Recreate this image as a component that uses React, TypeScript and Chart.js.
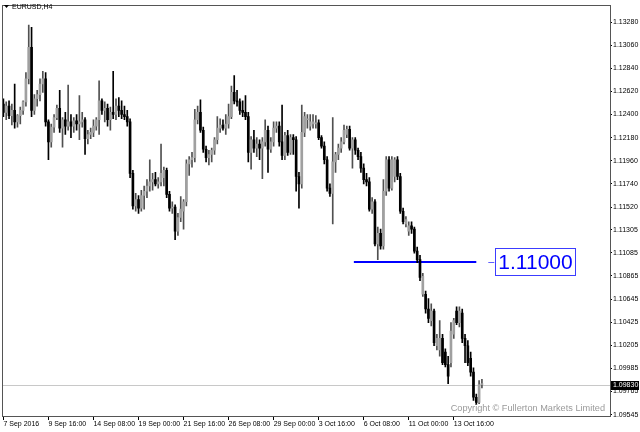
import React, { useEffect, useRef } from "react";
import { Chart, registerables } from "chart.js";

Chart.register(...registerables);

const symbolTitle = "EURUSD,H4";

const barOpen = [
  1.1250, 1.1242, 1.1248, 1.1239, 1.1244, 1.1233, 1.1239, 1.1244, 1.1252, 1.1274,
  1.1304, 1.1244, 1.1255, 1.1259, 1.1269, 1.1274, 1.1233, 1.1214, 1.1228, 1.1237,
  1.1246, 1.1227, 1.1235, 1.1229, 1.1233, 1.1229, 1.1234, 1.1231, 1.1233, 1.1235,
  1.1217, 1.1221, 1.1223, 1.1229, 1.1235, 1.1253, 1.1244, 1.1246, 1.1235, 1.1242,
  1.1240, 1.1248, 1.1244, 1.1240, 1.1238, 1.1233, 1.1184, 1.1153, 1.1159, 1.1151,
  1.1163, 1.1167, 1.1172, 1.1176, 1.1178, 1.1174, 1.1176, 1.1180, 1.1187, 1.1164,
  1.1151, 1.1152, 1.1129, 1.1142, 1.1148, 1.1157, 1.1193, 1.1197, 1.1199, 1.1235,
  1.1242, 1.1225, 1.1207, 1.1199, 1.1202, 1.1206, 1.1216, 1.1227, 1.1230, 1.1227,
  1.1231, 1.1238, 1.1261, 1.1253, 1.1252, 1.1244, 1.1242, 1.1238, 1.1204, 1.1216,
  1.1208, 1.1212, 1.1208, 1.1214, 1.1225, 1.1207, 1.1214, 1.1227, 1.1229, 1.1214,
  1.1201, 1.1220, 1.1204, 1.1218, 1.1216, 1.1181, 1.1174, 1.1223, 1.1235, 1.1229,
  1.1231, 1.1231, 1.1232, 1.1218, 1.1210, 1.1197, 1.1170, 1.1165, 1.1195, 1.1202,
  1.1208, 1.1214, 1.1221, 1.1226, 1.1208, 1.1216, 1.1206, 1.1200, 1.1189, 1.1178,
  1.1176, 1.1150, 1.1157, 1.1117, 1.1127, 1.1115, 1.1167, 1.1197, 1.1170, 1.1181,
  1.1197, 1.1181, 1.1148, 1.1136, 1.1129, 1.1134, 1.1131, 1.1110, 1.1102, 1.1069,
  1.1069, 1.1055, 1.1044, 1.1053, 1.1020, 1.1016, 1.1027, 1.1014, 1.1002, 1.1004,
  1.1031, 1.1053, 1.1042, 1.1051, 1.1027, 1.1020, 1.1008, 1.0995, 1.0971, 1.0966,
  1.0983,
];

const barHigh = [
  1.1255, 1.1252, 1.1253, 1.1250, 1.1269, 1.1240, 1.1247, 1.1253, 1.1280, 1.1325,
  1.1323, 1.1259, 1.1263, 1.1274, 1.1281, 1.1280, 1.1235, 1.1231, 1.1240, 1.1249,
  1.1263, 1.1237, 1.1242, 1.1268, 1.1240, 1.1237, 1.1240, 1.1258, 1.1242, 1.1237,
  1.1225, 1.1227, 1.1235, 1.1237, 1.1272, 1.1255, 1.1252, 1.1250, 1.1247, 1.1281,
  1.1255, 1.1256, 1.1253, 1.1248, 1.1244, 1.1236, 1.1187, 1.1165, 1.1163, 1.1168,
  1.1172, 1.1178, 1.1197, 1.1184, 1.1185, 1.1180, 1.1212, 1.1190, 1.1189, 1.1167,
  1.1157, 1.1154, 1.1146, 1.1162, 1.1159, 1.1197, 1.1200, 1.1204, 1.1245, 1.1248,
  1.1254, 1.1228, 1.1210, 1.1206, 1.1208, 1.1218, 1.1238, 1.1236, 1.1235, 1.1240,
  1.1250, 1.1267, 1.1277, 1.1263, 1.1255, 1.1253, 1.1258, 1.1242, 1.1219, 1.1225,
  1.1218, 1.1216, 1.1218, 1.1235, 1.1229, 1.1218, 1.1233, 1.1233, 1.1233, 1.1249,
  1.1223, 1.1225, 1.1221, 1.1221, 1.1219, 1.1185, 1.1249, 1.1242, 1.1240, 1.1240,
  1.1240, 1.1239, 1.1235, 1.1220, 1.1214, 1.1200, 1.1174, 1.1237, 1.1204, 1.1212,
  1.1218, 1.1230, 1.1229, 1.1229, 1.1218, 1.1218, 1.1208, 1.1204, 1.1193, 1.1184,
  1.1180, 1.1161, 1.1159, 1.1133, 1.1131, 1.1178, 1.1200, 1.1200, 1.1200, 1.1199,
  1.1200, 1.1184, 1.1151, 1.1143, 1.1138, 1.1138, 1.1133, 1.1114, 1.1106, 1.1089,
  1.1072, 1.1065, 1.1060, 1.1055, 1.1031, 1.1044, 1.1031, 1.1017, 1.1010, 1.1042,
  1.1046, 1.1057, 1.1057, 1.1055, 1.1031, 1.1025, 1.1014, 1.0999, 1.0974, 1.0987,
  1.0988,
];

const barLow = [
  1.1238, 1.1235, 1.1236, 1.1230, 1.1227, 1.1228, 1.1231, 1.1240, 1.1248, 1.1269,
  1.1238, 1.1240, 1.1248, 1.1253, 1.1261, 1.1229, 1.1197, 1.1209, 1.1223, 1.1235,
  1.1223, 1.1209, 1.1221, 1.1225, 1.1218, 1.1223, 1.1225, 1.1216, 1.1228, 1.1202,
  1.1212, 1.1217, 1.1219, 1.1225, 1.1221, 1.1240, 1.1233, 1.1229, 1.1225, 1.1236,
  1.1235, 1.1238, 1.1236, 1.1235, 1.1229, 1.1180, 1.1150, 1.1148, 1.1146, 1.1148,
  1.1150, 1.1161, 1.1167, 1.1168, 1.1172, 1.1170, 1.1172, 1.1172, 1.1161, 1.1148,
  1.1146, 1.1121, 1.1125, 1.1138, 1.1131, 1.1153, 1.1182, 1.1190, 1.1195, 1.1231,
  1.1223, 1.1204, 1.1195, 1.1192, 1.1195, 1.1202, 1.1212, 1.1223, 1.1225, 1.1221,
  1.1227, 1.1236, 1.1250, 1.1248, 1.1240, 1.1238, 1.1235, 1.1195, 1.1188, 1.1204,
  1.1200, 1.1197, 1.1179, 1.1210, 1.1185, 1.1204, 1.1210, 1.1223, 1.1210, 1.1197,
  1.1197, 1.1201, 1.1202, 1.1202, 1.1167, 1.1151, 1.1170, 1.1219, 1.1227, 1.1225,
  1.1227, 1.1227, 1.1216, 1.1208, 1.1193, 1.1167, 1.1162, 1.1136, 1.1185, 1.1197,
  1.1204, 1.1212, 1.1218, 1.1206, 1.1189, 1.1202, 1.1197, 1.1185, 1.1174, 1.1172,
  1.1148, 1.1146, 1.1115, 1.1102, 1.1112, 1.1112, 1.1163, 1.1167, 1.1168, 1.1176,
  1.1178, 1.1146, 1.1136, 1.1133, 1.1125, 1.1127, 1.1108, 1.1099, 1.1082, 1.1067,
  1.1051, 1.1042, 1.1039, 1.1020, 1.1016, 1.1010, 1.1002, 1.1000, 1.0984, 1.1000,
  1.1027, 1.1040, 1.1038, 1.1023, 1.1004, 1.1001, 1.0991, 1.0968, 1.0964, 1.0965,
  1.0980,
];

const barClose = [
  1.1242, 1.1248, 1.1239, 1.1244, 1.1233, 1.1239, 1.1244, 1.1252, 1.1274, 1.1304,
  1.1244, 1.1255, 1.1259, 1.1269, 1.1274, 1.1233, 1.1214, 1.1228, 1.1237, 1.1246,
  1.1227, 1.1235, 1.1229, 1.1233, 1.1229, 1.1234, 1.1231, 1.1233, 1.1235, 1.1217,
  1.1221, 1.1223, 1.1229, 1.1235, 1.1253, 1.1244, 1.1246, 1.1235, 1.1242, 1.1240,
  1.1248, 1.1244, 1.1240, 1.1238, 1.1233, 1.1184, 1.1153, 1.1159, 1.1151, 1.1163,
  1.1167, 1.1172, 1.1176, 1.1178, 1.1174, 1.1176, 1.1184, 1.1187, 1.1164, 1.1151,
  1.1152, 1.1129, 1.1142, 1.1150, 1.1157, 1.1193, 1.1197, 1.1199, 1.1235, 1.1242,
  1.1225, 1.1207, 1.1199, 1.1202, 1.1206, 1.1216, 1.1227, 1.1230, 1.1227, 1.1231,
  1.1238, 1.1261, 1.1253, 1.1252, 1.1244, 1.1242, 1.1238, 1.1204, 1.1216, 1.1208,
  1.1212, 1.1208, 1.1214, 1.1225, 1.1207, 1.1214, 1.1227, 1.1229, 1.1214, 1.1201,
  1.1220, 1.1204, 1.1218, 1.1216, 1.1181, 1.1174, 1.1223, 1.1238, 1.1236, 1.1233,
  1.1233, 1.1232, 1.1218, 1.1210, 1.1197, 1.1170, 1.1165, 1.1195, 1.1202, 1.1208,
  1.1214, 1.1225, 1.1226, 1.1208, 1.1216, 1.1206, 1.1200, 1.1189, 1.1178, 1.1176,
  1.1150, 1.1157, 1.1117, 1.1127, 1.1115, 1.1167, 1.1197, 1.1170, 1.1197, 1.1197,
  1.1181, 1.1148, 1.1138, 1.1140, 1.1134, 1.1131, 1.1110, 1.1102, 1.1085, 1.1086,
  1.1055, 1.1046, 1.1053, 1.1023, 1.1027, 1.1027, 1.1004, 1.1002, 1.0991, 1.1034,
  1.1044, 1.1042, 1.1053, 1.1027, 1.1020, 1.1004, 1.0995, 1.0971, 1.0966, 1.0983,
  1.0983,
];

const xTickLabels = [
  "7 Sep 2016", "9 Sep 16:00", "14 Sep 08:00", "19 Sep 00:00", "21 Sep 16:00",
  "26 Sep 08:00", "29 Sep 00:00", "3 Oct 16:00", "6 Oct 08:00", "11 Oct 00:00", "13 Oct 16:00",
];
const barsPerXLabel = 16;
const emptyBarsRight = 45;

const yTickValues = [
  1.1328, 1.1306, 1.1284, 1.1262, 1.124, 1.1218, 1.1196, 1.1174, 1.1152,
  1.11305, 1.11085, 1.10865, 1.10645, 1.10425, 1.10205, 1.09985, 1.09765, 1.09545,
];
const yMin = 1.09532;
const yMax = 1.1344;

const currentPrice = 1.0983;
const levelPrice = 1.11;
const levelFromBar = 124.5;
const levelToBar = 168;
const copyrightText = "Copyright \u00A9 Fullerton Markets Limited";

const FONT = "'Liberation Sans', Arial, sans-serif";

export default function App() {
  const ref = useRef<HTMLCanvasElement | null>(null);

  useEffect(() => {
    const canvas = ref.current;
    if (!canvas) return;
    const n = barOpen.length;
    const labels = Array.from({ length: n + emptyBarsRight }, (_, i) => String(i));
    const bull = barOpen.map((o, i) => barClose[i] >= o);

    const mt4Plugin = {
      id: "mt4",
      beforeDraw(chart: any) {
        const ctx = chart.ctx;
        ctx.save();
        ctx.fillStyle = "#ffffff";
        ctx.fillRect(0, 0, chart.width, chart.height);
        ctx.restore();
      },
      beforeDatasetsDraw(chart: any) {
        const ctx = chart.ctx;
        const { left, right } = chart.chartArea;
        const ys = chart.scales.y;
        const xs = chart.scales.x;
        ctx.save();
        const py = Math.round(ys.getPixelForValue(currentPrice)) + 0.5;
        ctx.strokeStyle = "#c8c8c8";
        ctx.lineWidth = 1;
        ctx.beginPath();
        ctx.moveTo(left, py);
        ctx.lineTo(right, py);
        ctx.stroke();
        const ly = Math.round(ys.getPixelForValue(levelPrice));
        const x1 = xs.getPixelForValue(levelFromBar);
        const x2 = xs.getPixelForValue(levelToBar);
        ctx.strokeStyle = "#0000ff";
        ctx.lineWidth = 2;
        ctx.beginPath();
        ctx.moveTo(x1, ly);
        ctx.lineTo(x2, ly);
        ctx.stroke();
        ctx.restore();
      },
      afterDraw(chart: any) {
        const ctx = chart.ctx;
        const { left, right, top, bottom } = chart.chartArea;
        const ys = chart.scales.y;
        const xs = chart.scales.x;
        ctx.save();
        ctx.strokeStyle = "#555555";
        ctx.lineWidth = 1;
        ctx.strokeRect(Math.round(left) + 0.5, Math.round(top) + 0.5, Math.round(right - left), Math.round(bottom - top));

        const ly = Math.round(ys.getPixelForValue(levelPrice));
        const x2 = xs.getPixelForValue(levelToBar);
        ctx.strokeStyle = "#6060ff";
        ctx.beginPath();
        ctx.moveTo(x2 + 12, ly + 0.5);
        ctx.lineTo(x2 + 18, ly + 0.5);
        ctx.stroke();
        const bx = Math.round(x2 + 19) + 0.5;
        const by = ly - 13.5;
        ctx.fillStyle = "#ffffff";
        ctx.fillRect(bx, by, 80, 27);
        ctx.strokeStyle = "#3c3cff";
        ctx.strokeRect(bx, by, 80, 27);
        ctx.fillStyle = "#0000ff";
        ctx.font = `21px ${FONT}`;
        ctx.textAlign = "center";
        ctx.textBaseline = "middle";
        ctx.fillText(levelPrice.toFixed(5), bx + 40, ly + 1);

        const py = Math.round(ys.getPixelForValue(currentPrice));
        ctx.fillStyle = "#000000";
        ctx.fillRect(right + 1, py - 4, 28, 9);
        ctx.fillStyle = "#ffffff";
        ctx.font = `7px ${FONT}`;
        ctx.textAlign = "left";
        ctx.textBaseline = "middle";
        ctx.fillText(currentPrice.toFixed(5), right + 3, py + 0.5);

        ctx.fillStyle = "#000000";
        ctx.beginPath();
        ctx.moveTo(4, 5);
        ctx.lineTo(9, 5);
        ctx.lineTo(6.5, 8);
        ctx.closePath();
        ctx.fill();
        ctx.font = `7px ${FONT}`;
        ctx.textAlign = "left";
        ctx.textBaseline = "middle";
        ctx.fillText(symbolTitle, 12, 7);

        ctx.fillStyle = "#9a9a9a";
        ctx.font = `9.2px ${FONT}`;
        ctx.textAlign = "right";
        ctx.textBaseline = "alphabetic";
        ctx.fillText(copyrightText, right - 5, bottom - 5);
        ctx.restore();
      },
    };

    const chart = new Chart(canvas, {
      type: "bar",
      data: {
        labels,
        datasets: [
          {
            label: "body",
            data: barOpen.map((o, i) => [o, barClose[i]]) as any,
            backgroundColor: bull.map((b) => (b ? "#a0a0a0" : "#000000")),
            borderWidth: 0,
            barThickness: 2,
            minBarLength: 1,
            grouped: false,
            order: 0,
          } as any,
          {
            label: "wick",
            data: barLow.map((l, i) => [l, barHigh[i]]) as any,
            backgroundColor: bull.map((b) => (b ? "#505050" : "#000000")),
            borderWidth: 0,
            barThickness: 1,
            grouped: false,
            order: 1,
          } as any,
        ],
      },
      options: {
        animation: false,
        responsive: false,
        maintainAspectRatio: false,
        layout: { padding: { left: 2, top: 2, right: 0, bottom: 0 } },
        plugins: {
          legend: { display: false },
          tooltip: { enabled: false },
          title: { display: false },
        },
        scales: {
          x: {
            type: "category",
            offset: true,
            border: { display: false },
            grid: {
              display: true,
              drawOnChartArea: false,
              drawTicks: true,
              tickLength: 4,
              color: "#000000",
              offset: false,
            },
            ticks: {
              autoSkip: false,
              maxRotation: 0,
              minRotation: 0,
              align: "start",
              padding: 0,
              color: "#000000",
              font: { family: FONT, size: 7 },
              callback: (_v: any, i: number) =>
                i % barsPerXLabel === 0 && i / barsPerXLabel < xTickLabels.length
                  ? xTickLabels[i / barsPerXLabel]
                  : null,
            },
            afterFit: (s: any) => {
              s.height = 16;
            },
          } as any,
          y: {
            position: "right",
            min: yMin,
            max: yMax,
            border: { display: false },
            grid: {
              display: true,
              drawOnChartArea: false,
              drawTicks: true,
              tickLength: 2,
              color: "#000000",
            },
            afterBuildTicks: (axis: any) => {
              axis.ticks = yTickValues.map((v) => ({ value: v }));
            },
            ticks: {
              padding: 1,
              color: "#000000",
              font: { family: FONT, size: 7 },
              callback: (v: any) => Number(v).toFixed(5),
            },
            afterFit: (s: any) => {
              s.width = 30;
            },
          } as any,
        },
      },
      plugins: [mt4Plugin],
    });
    return () => chart.destroy();
  }, []);

  return (
    <div style={{ position: "fixed", left: 0, top: 0, width: 640, height: 432, background: "#fff" }}>
      <canvas ref={ref} width={640} height={432} style={{ display: "block", width: 640, height: 432 }} />
    </div>
  );
}
